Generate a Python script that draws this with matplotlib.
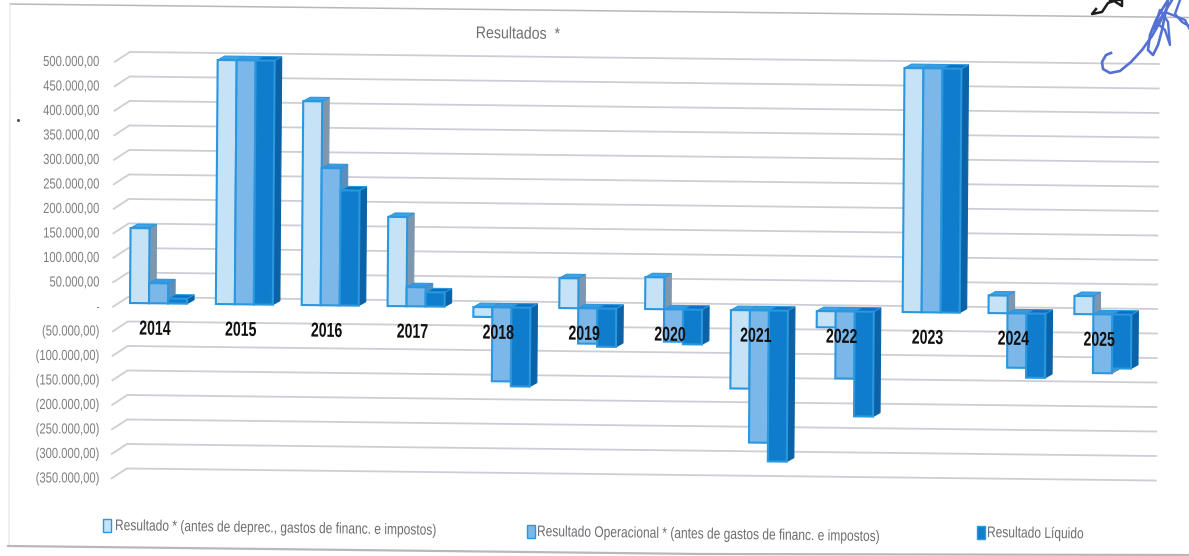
import numpy as np
import matplotlib
matplotlib.use('Agg')
import matplotlib.pyplot as plt
from matplotlib.patches import Polygon, Rectangle
from matplotlib.patheffects import AbstractPathEffect
from matplotlib.transforms import Affine2D

years = ['2014', '2015', '2016', '2017', '2018', '2019', '2020', '2021', '2022', '2023', '2024', '2025']
resultado = [153000, 498000, 416000, 182000, -20000, 61000, 65000, -160000, -33000, 498000, 36000, 37000]
operacional = [41000, 498000, 280000, 39000, -151000, -72000, -66000, -270000, -137000, 498000, -111000, -120000]
liquido = [10000, 498000, 235000, 29000, -161000, -78000, -71000, -308000, -214000, 498000, -131000, -110000]

grid_values = [500000, 450000, 400000, 350000, 300000, 250000, 200000, 150000, 100000, 50000, 0,
               -50000, -100000, -150000, -200000, -250000, -300000, -350000]
legend_labels = ['Resultado * (antes de deprec., gastos de financ. e impostos)',
                 'Resultado Operacional * (antes de gastos de financ. e impostos)',
                 'Resultado Líquido']

W, H = 1189, 556
FONT = ['Liberation Sans', 'DejaVu Sans']
TILT_Y = 0.0117  # the sheet sits slightly crooked
TILT_X = 0.0075

# px per category / px per 50 thousand, used for the axis limits
STEP = 85.85
UNIT = 24.5
X0, Y0 = 130, 303

BAR_W = 19 / STEP
DEPTH_X = 7 / STEP
DEPTH_Y = 4 / UNIT * 50000

# front, side, top colours of each series
STYLES = [('#c6e2f7', '#7f97ae', '#3fa2e4'),
          ('#7cb7ea', '#5b8fb9', '#3a98de'),
          ('#0f7dcb', '#0b62a6', '#0a6fc4')]
EDGE = '#2b97de'


class Condensed(AbstractPathEffect):
    # squeezes glyphs sideways around a fixed x pixel, there is no narrow font here
    def __init__(self, factor, anchor):
        self.factor = factor
        self.anchor = anchor

    def draw_path(self, renderer, gc, tpath, affine, rgbFace=None):
        squeeze = Affine2D().translate(-self.anchor, 0).scale(self.factor, 1).translate(self.anchor, 0)
        renderer.draw_path(gc, tpath, affine + squeeze, rgbFace)


fig = plt.figure(figsize=(W / 100, H / 100), dpi=100)
ax = fig.add_axes([0, 0, 1, 1])
ax.set_xlim(-X0 / STEP, (W - X0) / STEP)
ax.set_ylim(-(H - Y0) / UNIT * 50000, Y0 / UNIT * 50000)
ax.axis('off')

crooked = ax.transData + (Affine2D().translate(-X0, -(H - Y0))
                          .skew(np.arctan(TILT_X), -np.arctan(TILT_Y))
                          .translate(X0, H - Y0))
page = Affine2D().scale(1, -1).translate(0, H)
angle = -np.degrees(np.arctan(TILT_Y))


def draw_bar(x, value, style, z):
    front, side, top = style
    x1 = x + BAR_W
    y_hi, y_lo = max(value, 0), min(value, 0)
    ax.add_patch(Polygon([(x1, y_lo), (x1 + DEPTH_X, y_lo + DEPTH_Y), (x1 + DEPTH_X, y_hi + DEPTH_Y), (x1, y_hi)],
                         fc=side, ec=side, lw=0.8, transform=crooked, zorder=z))
    ax.add_patch(Polygon([(x, y_hi), (x + DEPTH_X, y_hi + DEPTH_Y), (x1 + DEPTH_X, y_hi + DEPTH_Y), (x1, y_hi)],
                         fc=top, ec=EDGE, lw=0.8, transform=crooked, zorder=z))
    ax.add_patch(Polygon([(x, y_lo), (x1, y_lo), (x1, y_hi), (x, y_hi)],
                         fc=front, ec=EDGE, lw=1.5, transform=crooked, zorder=z + 0.1))


# outer frame of the chart
ax.plot([10, 1189], [4, 17.5], color='#b8b8bc', lw=1.1, transform=page)
ax.plot([10, 9], [5, 546], color='#ececf0', lw=1.2, transform=page)
ax.plot([8, 700, 1189], [546, 554, 555], color='#b8b8bc', lw=1.6, transform=page)

# walls: gridlines plus the short slanted ticks on the left
wall_dy = 6 / UNIT * 50000
tick_dy = -4 / UNIT * 50000
x_wall0 = (128 - X0) / STEP
x_wall1 = (1157 - X0) / STEP
x_tick = (113 - X0) / STEP
for v in grid_values:
    ax.plot([x_tick, x_wall0, x_wall1], [v + tick_dy, v + wall_dy, v + wall_dy], color='#cdcdd6', lw=1.3,
            transform=crooked, zorder=1)
    label = '-' if v == 0 else (f'{v:,.2f}' if v > 0 else f'({-v:,.2f})')
    label = label.replace(',', 'X').replace('.', ',').replace('X', '.')
    ax.text((100 - X0) / STEP, v + tick_dy, label, ha='right', va='center', color='#7d7d83', fontsize=10.5,
            family=FONT, path_effects=[Condensed(0.77, 100)], zorder=5)

# bars, group by group from the left
for i, year in enumerate(years):
    for j, values in enumerate([resultado, operacional, liquido]):
        draw_bar(i + j * BAR_W, values[i], STYLES[j], 2 + i + j * 0.2)
    label_x = X0 + STEP * i + 25
    ax.text(i + 25 / STEP, -53000, year, ha='center', va='center', fontsize=14.5, fontweight='bold', color='#111111',
            family=FONT, rotation=angle, rotation_mode='anchor', transform=crooked,
            path_effects=[Condensed(0.7, label_x)], zorder=20)

ax.text(518, 34, 'Resultados  *', ha='center', va='center', fontsize=12, color='#6f6f74', family=FONT,
        rotation=angle, rotation_mode='anchor', transform=page, path_effects=[Condensed(0.85, 518)])

# legend, written out by hand since the three entries are not evenly spread
legend_pos = [(115, 526), (537, 532), (987, 533)]
swatch_x = [103, 527, 977]
swatch_colors = ['#c6e2f7', '#7cb7ea', '#0f7dcb']
for label, (tx, ty), sx, color in zip(legend_labels, legend_pos, swatch_x, swatch_colors):
    ax.add_patch(Rectangle((sx, ty - 7), 8, 13, fc=color, ec=EDGE, lw=1.0, transform=page, zorder=6))
    ax.text(tx, ty, label, ha='left', va='center', fontsize=11, color='#6d6d72', family=FONT,
            rotation=angle, rotation_mode='anchor', transform=page, path_effects=[Condensed(0.785, tx)], zorder=6)

# pen marks over the top right corner and the stray dot on the left
ink = '#5470d2'
ax.plot([1111, 1106, 1102, 1103, 1110, 1120, 1131, 1142, 1152, 1160, 1166, 1172],
        [53, 55, 62, 69, 73, 71, 62, 50, 36, 22, 10, 0], color=ink, lw=1.9, transform=page, zorder=30)
ax.plot([1168, 1163, 1156, 1150, 1148, 1153, 1158, 1162, 1165, 1168],
        [0, 8, 20, 35, 50, 55, 45, 30, 15, 3], color=ink, lw=1.9, transform=page, zorder=30)
ax.plot([1155, 1160, 1168, 1170, 1165, 1158, 1152, 1165, 1185, 1189],
        [25, 10, 22, 45, 30, 24, 30, 12, 20, 28], color=ink, lw=1.7, transform=page, zorder=30)
ax.plot([1180, 1175, 1182, 1189], [0, 14, 22, 26], color=ink, lw=1.7, transform=page, zorder=30)
ax.plot([1096, 1092, 1102, 1108, 1114, 1122, 1122, 1110], [9, 14, 12, 3, 1, 6, 0, 0], color='#1c1c1c', lw=1.8,
        transform=page, zorder=30)
ax.plot([18], [120], marker='.', ms=2.5, color='#555555', transform=page)

fig.savefig('out.png', dpi=100)
